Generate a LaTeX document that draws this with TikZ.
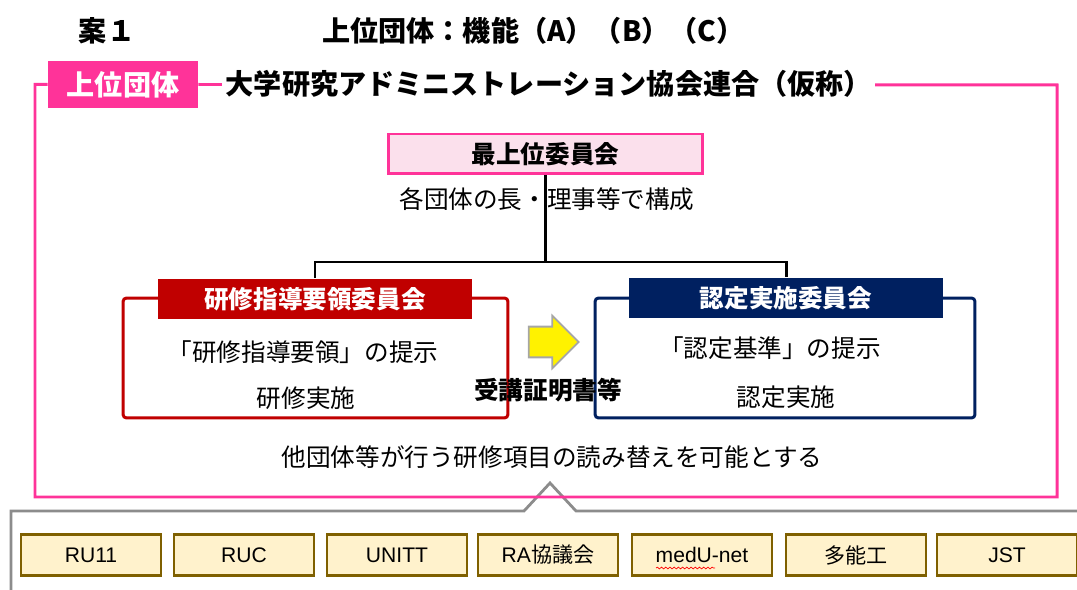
\documentclass[tikz,border=0pt]{standalone}
\usepackage{fontspec}
\setmainfont{Liberation Sans}
\newfontfamily\jp{Noto Sans CJK JP}
\usetikzlibrary{shapes.arrows,decorations.pathmorphing}
\definecolor{hotpink}{HTML}{FF3399}
\definecolor{palepink}{HTML}{FBE0EC}
\definecolor{trainred}{HTML}{C00000}
\definecolor{certnavy}{HTML}{002060}
\definecolor{memberbrown}{HTML}{7F6000}
\definecolor{membercream}{HTML}{FFF2CC}
\definecolor{calloutgray}{HTML}{8C8C8C}

\begin{document}
\begin{tikzpicture}[x=0.02cm,y=-0.02cm,
        heading/.style={font=\jp\bfseries\fontsize{16}{18}\selectfont, inner sep=0pt},
        body/.style={font=\jp\fontsize{14}{16}\selectfont, inner sep=0pt},
        boldbody/.style={font=\jp\bfseries\fontsize{14}{16}\selectfont, inner sep=0pt},
        pinkline/.style={draw=hotpink, line width=1.7pt},
        tag/.style={heading, fill=hotpink, text=white, minimum width=3cm, minimum height=0.94cm},
        topbox/.style={boldbody, draw=hotpink, fill=palepink, line width=1.7pt, minimum width=6.3cm, minimum height=0.8cm},
        frame/.style={draw, line width=1.7pt, rounded corners=2pt, minimum height=2.4cm},
        head/.style={boldbody, text=white, minimum width=6.28cm, minimum height=0.82cm},
        conn/.style={line width=1.7pt},
        pass/.style={single arrow, fill=yellow, draw=gray!70, line width=1pt,
            inner xsep=0pt, inner ysep=0.29cm, minimum height=1cm,
            single arrow head extend=0.22cm},
        member/.style={draw=memberbrown, fill=membercream, line width=1.6pt,
            minimum width=2.8cm, minimum height=0.82cm, font=\fontsize{12}{14}\selectfont},
        calloutline/.style={draw=calloutgray, line width=1.6pt},
        spell/.style={draw=red, line width=0.4pt, decorate,
            decoration={snake, amplitude=0.5pt, segment length=2.4pt}}]
            \useasboundingbox (0,0) rectangle (1077,590);

            \draw[calloutline] (11,590) -- (11,511) -- (524,511) -- (550,483) -- (576,511) -- (1077,511);

            \node[heading] (plan) at (107,31) {案１};
            \node[heading, anchor=west] (func) at (322,31) {上位団体：機能（A）（B）（C）};

            \node[tag] (tag) at (123,84.5) {上位団体};
            \draw[pinkline] (tag.west) -| (35,497) -| (1057,85) -- (tag.east);
            \node[heading, fill=white, inner xsep=2pt, anchor=west] (union) at (222,84) {大学研究アドミニストレーション協会連合（仮称）};

            \node[topbox] (board) at (545.5,154) {最上位委員会};

            \node[frame, draw=trainred, minimum width=7.7cm] (trainframe) at (315.5,358) {};
            \node[frame, draw=certnavy, minimum width=7.6cm] (certframe) at (785,358) {};
            \node[head, fill=trainred] (train) at (315,299) {研修指導要領委員会};
            \node[head, fill=certnavy] (cert) at (786,298) {認定実施委員会};

            \coordinate (fork) at (545.5,262);
            \draw[conn] (board.south) -- (fork);
            \draw[conn] (train.north) |- (fork) -| (cert.north);

            \node[body] (boardnote) at (547,199) {各団体の長・理事等で構成};

            \node[body] (trainguide) at (303,352) {「研修指導要領」の提示};
            \node[body] (trainrun) at (306,398) {研修実施};
            \node[body] (certbase) at (770,348) {「認定基準」の提示};
            \node[body] (certrun) at (786,397) {認定実施};

            \node[pass] (pass) at (546,342) {};
            \node[boldbody] (proof) at (548,390) {受講証明書等};

            \node[body] (note) at (552,457) {他団体等が行う研修項目の読み替えを可能とする};

            \node[member] (ru) at (91,555) {RU11};
            \node[member] (ruc) at (244,555) {RUC};
            \node[member] (unitt) at (397,555) {UNITT};
            \node[member] (ra) at (548,555) {RA{\jp 協議会}};
            \node[member] (medu) at (702,555) {medU-net};
            \node[member] (tano) at (856,555) {{\jp 多能工}};
            \node[member] (jst) at (1007,555) {JST};
            \draw[spell] (656,568) -- (715,568);
        \end{tikzpicture}
\end{document}
